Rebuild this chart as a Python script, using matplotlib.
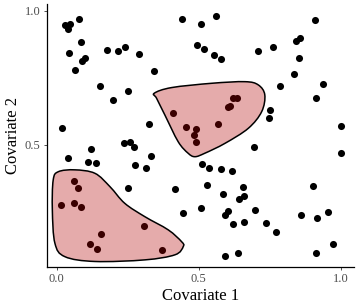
import numpy as np
import matplotlib
matplotlib.use("Agg")
import matplotlib.pyplot as plt
from matplotlib.path import Path
from matplotlib.patches import PathPatch

plt.rcParams['font.family'] = ['Liberation Serif', 'DejaVu Serif']

# covariate values of all sampled points
cov1 = [0.029, 0.047, 0.039, 0.080, 0.087, 0.044, 0.090, 0.101, 0.064, 0.176,
        0.217, 0.242, 0.290, 0.343, 0.152, 0.250, 0.197, 0.018, 0.325, 0.237,
        0.258, 0.273, 0.120, 0.440, 0.508, 0.562, 0.911, 0.493, 0.518, 0.553,
        0.580, 0.708, 0.762, 0.844, 0.857, 0.852, 0.837, 0.785, 0.937, 0.913,
        0.750, 0.748, 1.000, 0.696, 0.039, 0.109, 0.137, 0.276, 0.332, 0.314,
        0.252, 0.417, 1.001, 0.513, 0.535, 0.580, 0.617, 0.529, 0.585, 0.656,
        0.659, 0.642, 0.901, 0.446, 0.508, 0.593, 0.604, 0.697, 0.620, 0.660,
        0.737, 0.773, 0.861, 0.918, 0.956, 0.974, 0.913, 0.594, 0.639,
        # inside region A
        0.062, 0.076, 0.014, 0.061, 0.086, 0.158, 0.117, 0.141, 0.308, 0.370,
        # inside region B
        0.411, 0.454, 0.490, 0.483, 0.490, 0.567, 0.604, 0.610, 0.620, 0.636]
cov2 = [0.948, 0.951, 0.933, 0.970, 0.885, 0.842, 0.815, 0.826, 0.780, 0.854,
        0.851, 0.866, 0.838, 0.777, 0.719, 0.700, 0.667, 0.563, 0.578, 0.509,
        0.510, 0.493, 0.485, 0.970, 0.953, 0.982, 0.968, 0.874, 0.858, 0.837,
        0.821, 0.852, 0.865, 0.889, 0.899, 0.824, 0.765, 0.721, 0.729, 0.674,
        0.632, 0.600, 0.570, 0.491, 0.453, 0.438, 0.432, 0.425, 0.458, 0.415,
        0.341, 0.337, 0.468, 0.429, 0.412, 0.409, 0.402, 0.352, 0.316, 0.344,
        0.310, 0.299, 0.348, 0.245, 0.264, 0.239, 0.254, 0.256, 0.204, 0.214,
        0.209, 0.175, 0.238, 0.228, 0.251, 0.129, 0.098, 0.085, 0.097,
        0.366, 0.341, 0.276, 0.282, 0.270, 0.168, 0.129, 0.111, 0.198, 0.108,
        0.618, 0.568, 0.559, 0.537, 0.512, 0.578, 0.641, 0.647, 0.676, 0.674]

# outline vertices of the two highlighted regions
region_a_x = [0.006, 0.064, 0.135, 0.188, 0.240, 0.311, 0.393, 0.440, 0.446,
              0.417, 0.311, 0.135, 0.029, -0.006, -0.015, -0.012]
region_a_y = [0.400, 0.407, 0.394, 0.344, 0.282, 0.232, 0.183, 0.139, 0.121,
              0.090, 0.071, 0.065, 0.083, 0.133, 0.257, 0.369]
region_b_x = [0.344, 0.405, 0.546, 0.663, 0.710, 0.733, 0.722, 0.675, 0.593,
              0.522, 0.487, 0.463, 0.428, 0.381, 0.352]
region_b_y = [0.693, 0.714, 0.730, 0.736, 0.724, 0.687, 0.624, 0.562, 0.506,
              0.469, 0.456, 0.469, 0.512, 0.612, 0.674]


def smooth_closed_path(xs, ys):
    # closed Catmull-Rom outline expressed as cubic Bezier segments
    p = np.column_stack([xs, ys])
    n = len(p)
    verts = [p[0]]
    codes = [Path.MOVETO]
    for i in range(n):
        p0, p1, p2, p3 = p[i - 1], p[i], p[(i + 1) % n], p[(i + 2) % n]
        verts += [p1 + (p2 - p0) / 6, p2 - (p3 - p1) / 6, p2]
        codes += [Path.CURVE4] * 3
    verts.append(p[0])
    codes.append(Path.CLOSEPOLY)
    return Path(verts, codes)


fig = plt.figure(figsize=(3.59, 3.05), dpi=100)
ax = fig.add_axes([0.130, 0.126, 0.856, 0.861])

ax.scatter(cov1, cov2, s=26, color='black', linewidths=0, zorder=2)

for rx, ry in [(region_a_x, region_a_y), (region_b_x, region_b_y)]:
    ax.add_patch(PathPatch(smooth_closed_path(rx, ry), facecolor=(0.70, 0, 0, 0.33),
                           edgecolor='black', linewidth=1.1, zorder=3))

ax.set_xlim(-0.035, 1.047)
ax.set_ylim(0.046, 1.026)
ax.set_xticks([0.0, 0.5, 1.0])
ax.set_yticks([0.5, 1.0])
ax.set_xticklabels(['0.0', '0.5', '1.0'])
ax.set_yticklabels(['0.5', '1.0'])
ax.tick_params(labelsize=9, labelcolor='#4d4d4d', length=2.5, width=0.6, color='#333333', pad=2)
for s in ['top', 'right']:
    ax.spines[s].set_visible(False)
for s in ['left', 'bottom']:
    ax.spines[s].set_linewidth(0.9)
ax.set_xlabel('Covariate 1', fontsize=12, labelpad=2)
ax.set_ylabel('Covariate 2', fontsize=12, labelpad=3)

fig.savefig('out.png', dpi=100)
